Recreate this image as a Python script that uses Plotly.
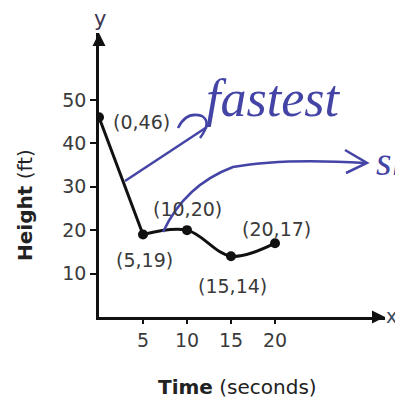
import plotly.graph_objects as go

# data
times = [0, 5, 10, 15, 20]
heights = [46, 19, 20, 14, 17]
x_ticks = [5, 10, 15, 20]
y_ticks = [10, 20, 30, 40, 50]
label_shift = [(42, -5), (1, -26), (0, 21), (1, -30), (1, 14)]

# page has an 8px body margin: work in window pixels and subtract it
OFF = 8
WIN_W, WIN_H = 403, 405
W, H = WIN_W - OFF, WIN_H - OFF
AX_L, AX_R, AX_T, AX_B = 99, 385, 33, 317   # plot area in window pixels
ML, MR, MT, MB = AX_L - OFF, WIN_W - AX_R, AX_T - OFF, WIN_H - AX_B
XR = [0, 32.5]
YR = [0, 65.4]
PW = AX_R - AX_L
PH = AX_B - AX_T

def px(x):  # window pixel -> data x
    return XR[0] + (x - AX_L) / PW * (XR[1] - XR[0])

def py(y):  # window pixel -> data y
    return YR[0] + (AX_B - y) / PH * (YR[1] - YR[0])

def ppx(x):  # window pixel -> paper x
    return (x - AX_L) / PW

def ppy(y):
    return (AX_B - y) / PH

BLUE = "#4444a6"
INK = "#111111"
GREY = "#3a3a3a"

fig = go.Figure()
fig.add_trace(go.Scatter(x=times[:2], y=heights[:2], mode="lines",
                         line=dict(color=INK, width=3), hoverinfo="skip"))
fig.add_trace(go.Scatter(x=times[1:], y=heights[1:], mode="lines",
                         line=dict(color=INK, width=3, shape="spline", smoothing=1)))
fig.add_trace(go.Scatter(x=times, y=heights, mode="markers",
                         marker=dict(color=INK, size=10)))

C = dict(xanchor="center", yanchor="middle")
ann = []
for (t, h), (dx, dy) in zip(zip(times, heights), label_shift):
    ann.append(dict(x=t, y=h, xref="x", yref="y", text=f"({t},{h})", showarrow=False,
                    xshift=dx, yshift=dy, font=dict(family="DejaVu Sans", size=19, color=GREY), **C))

# axis arrows
ann.append(dict(x=0, y=1, xref="x", yref="paper", ax=0, ay=14, text="", showarrow=True,
                arrowhead=2, arrowsize=1.3, arrowwidth=2, arrowcolor=INK))
ann.append(dict(x=1, y=0, xref="paper", yref="y", ax=-14, ay=0, text="", showarrow=True,
                arrowhead=2, arrowsize=1.3, arrowwidth=2, arrowcolor=INK))
ann.append(dict(x=ppx(100), y=ppy(19), xref="paper", yref="paper", text="y", showarrow=False,
                font=dict(family="DejaVu Sans", size=21, color="#3d3550"), **C))
ann.append(dict(x=ppx(392), y=ppy(316), xref="paper", yref="paper", text="x", showarrow=False,
                font=dict(family="DejaVu Sans", size=19, color="#3a4a60"), **C))

# axis titles
ann.append(dict(x=ppx(25), y=ppy(205), xref="paper", yref="paper",
                text="<b>Height</b> (ft)", textangle=-90, showarrow=False,
                font=dict(family="DejaVu Sans", size=20, color="#222"), **C))
ann.append(dict(x=ppx(237), y=ppy(387), xref="paper", yref="paper",
                text="<b>Time</b> (seconds)", showarrow=False,
                font=dict(family="DejaVu Sans", size=20, color="#222"), **C))

# handwritten notes
ann.append(dict(x=ppx(273), y=ppy(98), xref="paper", yref="paper", text="<i>fastest</i>",
                showarrow=False, font=dict(family="Liberation Serif", size=52, color=BLUE), **C))
ann.append(dict(x=ppx(389), y=ppy(161), xref="paper", yref="paper", text="<i>sl</i>",
                showarrow=False, font=dict(family="Liberation Serif", size=40, color=BLUE), **C))

shapes = [
    dict(type="line", xref="x", yref="y", x0=px(125), y0=py(181), x1=px(207), y1=py(127),
         line=dict(color=BLUE, width=2.5)),
    dict(type="path", xref="x", yref="y",
         path=f"M {px(178)},{py(128)} Q {px(186)},{py(111)} {px(202)},{py(116)} Q {px(212)},{py(122)} {px(200)},{py(138)}",
         line=dict(color=BLUE, width=2.5)),
    dict(type="path", xref="x", yref="y",
         path=(f"M {px(163)},{py(232)} Q {px(185)},{py(185)} {px(233)},{py(167)} "
               f"Q {px(283)},{py(158)} {px(365)},{py(163)}"),
         line=dict(color=BLUE, width=2.5)),
    dict(type="path", xref="x", yref="y",
         path=f"M {px(345)},{py(150)} L {px(367)},{py(163)} L {px(346)},{py(173)}",
         line=dict(color=BLUE, width=2.5)),
]

fig.update_layout(
    width=W, height=H, margin=dict(l=ML, r=MR, t=MT, b=MB, autoexpand=False),
    paper_bgcolor="white", plot_bgcolor="white", showlegend=False,
    annotations=ann, shapes=shapes,
    xaxis=dict(range=XR, tickvals=x_ticks, showline=True, linecolor=INK, linewidth=2.5,
               ticks="outside", ticklen=4, tickwidth=1.5, tickcolor=INK, showgrid=False,
               zeroline=False, tickfont=dict(family="DejaVu Sans", size=19, color=GREY)),
    yaxis=dict(range=YR, tickvals=y_ticks, showline=True, linecolor=INK, linewidth=2.5,
               ticks="outside", ticklen=6, tickwidth=1.5, tickcolor=INK, showgrid=False,
               zeroline=False, tickfont=dict(family="DejaVu Sans", size=19, color=GREY)),
)

fig.write_html("out.html")
